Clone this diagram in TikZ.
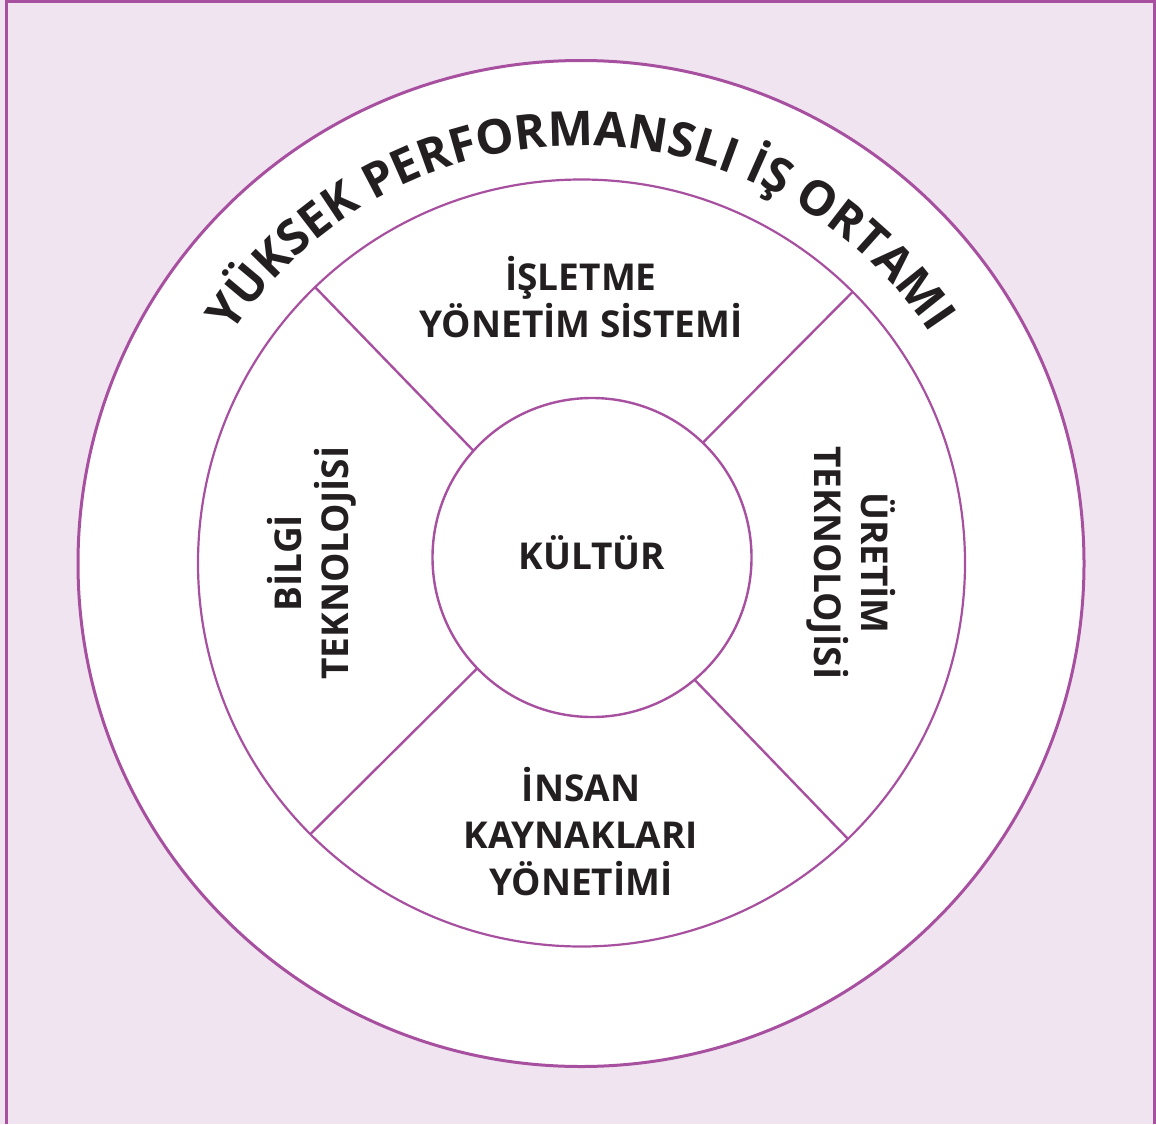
\documentclass[tikz,border=0pt]{standalone}
\usepackage{fontspec}
\setmainfont{Open Sans}
\usetikzlibrary{decorations.text}
\definecolor{bgpink}{RGB}{240,228,240}
\definecolor{ring}{RGB}{168,80,160}
\definecolor{ink}{RGB}{35,31,32}
\begin{document}
\begin{tikzpicture}[x=1pt,y=1pt,
  ringnode/.style={circle, draw=ring, fill=white, inner sep=0pt, outer sep=0pt},
  spoke/.style={draw=ring, line width=2.4pt},
  lbl/.style={font=\bfseries\fontsize{37}{47}\selectfont, text=ink, align=center, inner sep=0pt},
]
\useasboundingbox (0,0) rectangle (1156,-1124);
\fill[bgpink] (0,0) rectangle (1156,-1124);
\draw[ring, line width=2.5pt] (6.5,-1124) -- (6.5,-1.5) -- (1154.5,-1.5) -- (1154.5,-1124);

\node[ringnode, line width=3pt, minimum size=1006pt] (ringout) at (581,-563.5) {};
\node[ringnode, line width=2.2pt, minimum size=767pt] (ringmid) at (581.5,-563) {};
\node[ringnode, line width=2.4pt, minimum size=319pt] (core) at (592,-557.5) {};

\draw[spoke] (ringmid.134.5) -- (core.138.7);
\draw[spoke] (ringmid.45.3) -- (core.46.7);
\draw[spoke] (ringmid.225.6) -- (core.224.1);
\draw[spoke] (ringmid.314.7) -- (core.310.6);

\path[decorate, decoration={text along path, text align=center,
  text={|\bfseries\fontsize{48}{48}\selectfont\color{ink}|YÜKSEK PERFORMANSLI İŞ ORTAMI}}]
  (ringout.center) ++(150:418pt) arc[start angle=150, end angle=30, radius=418pt];

\node[lbl] (isletme) at (581,-297) {İŞLETME\\YÖNETİM SİSTEMİ};
\node[lbl] (kultur) at (592,-553) {KÜLTÜR};
\node[lbl] (insan) at (581,-832) {İNSAN\\KAYNAKLARI\\YÖNETİMİ};
\node[lbl, rotate=90] (bilgi) at (311.5,-563) {BİLGİ\\TEKNOLOJİSİ};
\node[lbl, rotate=-90] (uretim) at (851,-563) {ÜRETİM\\TEKNOLOJİSİ};
\end{tikzpicture}
\end{document}
